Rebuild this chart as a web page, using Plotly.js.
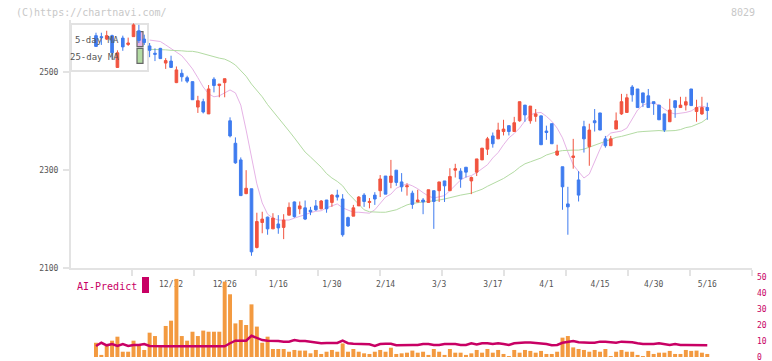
<!DOCTYPE html>
<html><head><meta charset="utf-8">
<script src="https://cdn.plot.ly/plotly-3.0.1.min.js"></script>
<style>html,body{margin:0;padding:0;background:#fff;}#chart{width:772px;height:361px;}</style>
</head><body><div id="chart"></div>
<script>
// ---- data ----
const dates = ["11/22","11/25","11/26","11/27","11/28","11/29","12/2","12/3","12/4","12/5","12/6","12/9","12/10","12/11","12/12","12/13","12/16","12/17","12/18","12/19","12/20","12/23","12/24","12/25","12/26","12/27","12/30","1/6","1/7","1/8","1/9","1/10","1/14","1/15","1/16","1/17","1/20","1/21","1/22","1/23","1/24","1/27","1/28","1/29","1/30","1/31","2/3","2/4","2/5","2/6","2/7","2/10","2/12","2/13","2/14","2/17","2/18","2/19","2/20","2/21","2/25","2/26","2/27","2/28","3/3","3/4","3/5","3/6","3/7","3/10","3/11","3/12","3/13","3/14","3/17","3/18","3/19","3/21","3/24","3/25","3/26","3/27","3/28","3/31","4/1","4/2","4/3","4/4","4/7","4/8","4/9","4/10","4/11","4/14","4/15","4/16","4/17","4/18","4/21","4/22","4/23","4/24","4/25","4/28","4/30","5/1","5/2","5/7","5/8","5/9","5/12","5/13","5/14","5/15","5/16"];

const openP = [2575,2573,2568,2575,2510,2570,2557,2573,2585,2568,
 2554,2539,2549,2519,2523,2479,2498,2489,2481,2429,
 2440,2415,2486,2473,2479,2401,2355,2321,2252,2262,
 2142,2193,2204,2180,2190,2183,2208,2235,2221,2223,
 2218,2227,2221,2239,2234,2249,2241,2203,2206,2227,
 2249,2234,2249,2258,2288,2275,2300,2276,2266,2253,
 2235,2239,2234,2258,2258,2278,2258,2300,2298,2306,
 2278,2296,2321,2343,2370,2364,2379,2391,2379,2401,
 2433,2401,2410,2411,2380,2395,2331,2307,2231,2326,
 2280,2389,2348,2401,2417,2364,2350,2384,2415,2418,
 2470,2466,2458,2452,2440,2433,2415,2399,2442,2428,
 2433,2466,2420,2415,2428];

const highP = [2581,2581,2585,2577,2545,2575,2571,2600,2597,2577,
 2560,2549,2550,2529,2534,2512,2506,2493,2481,2452,
 2446,2474,2490,2476,2487,2408,2367,2326,2300,2262,
 2213,2215,2205,2212,2208,2210,2234,2236,2236,2238,
 2225,2239,2239,2239,2251,2260,2251,2205,2229,2247,
 2253,2243,2255,2290,2288,2321,2300,2294,2273,2258,
 2260,2243,2260,2258,2276,2278,2304,2313,2304,2306,
 2287,2323,2345,2368,2377,2397,2403,2391,2409,2440,
 2433,2431,2425,2411,2391,2395,2352,2307,2266,2364,
 2298,2401,2395,2425,2417,2370,2370,2418,2456,2456,
 2474,2466,2458,2466,2440,2433,2415,2446,2442,2450,
 2450,2466,2444,2450,2438];

const lowP = [2553,2556,2566,2526,2510,2544,2554,2573,2560,2556,
 2531,2523,2528,2507,2509,2478,2481,2478,2444,2417,
 2416,2415,2459,2449,2449,2367,2313,2248,2251,2125,
 2140,2171,2168,2180,2170,2159,2208,2203,2210,2198,
 2208,2217,2220,2213,2225,2238,2164,2184,2206,2227,
 2225,2222,2229,2245,2251,2263,2268,2256,2248,2221,
 2235,2210,2234,2180,2235,2235,2258,2285,2264,2285,
 2251,2288,2321,2331,2346,2364,2371,2371,2379,2399,
 2399,2395,2399,2352,2362,2354,2329,2219,2168,2303,
 2236,2336,2309,2379,2382,2346,2350,2384,2413,2418,
 2440,2428,2429,2428,2413,2403,2378,2399,2407,2428,
 2422,2432,2399,2413,2403];

const closeP = [2553,2571,2575,2540,2540,2552,2560,2597,2565,2561,
 2545,2537,2528,2524,2510,2505,2491,2482,2444,2442,
 2419,2466,2473,2476,2487,2370,2315,2248,2263,2133,
 2195,2200,2180,2202,2182,2198,2224,2205,2227,2200,
 2215,2219,2237,2221,2249,2245,2168,2186,2223,2245,
 2236,2236,2241,2282,2251,2288,2275,2266,2268,2230,
 2239,2235,2260,2236,2276,2268,2287,2303,2282,2296,
 2285,2323,2345,2364,2354,2382,2384,2379,2397,2440,
 2413,2431,2415,2352,2377,2354,2339,2266,2225,2329,
 2249,2364,2382,2397,2382,2350,2364,2401,2440,2448,
 2454,2428,2438,2428,2436,2403,2382,2423,2428,2433,
 2440,2432,2428,2428,2422];

const ma5 = [null,null,null,null,null,null,null,null,null,null,
 2566,2564,2563,2556,2549,2542,2534,2521,2507,2489,
 2470,2456,2450,2452,2458,2464,2458,2433,2382,2325,
 2272,2233,2210,2202,2198,2198,2198,2202,2205,2209,
 2213,2216,2217,2223,2227,2231,2223,2218,2214,2214,
 2213,2212,2219,2233,2245,2251,2263,2268,2272,2268,
 2262,2254,2247,2243,2245,2248,2258,2268,2280,2286,
 2289,2295,2303,2311,2325,2336,2352,2366,2375,2386,
 2401,2413,2417,2418,2410,2400,2386,2366,2337,2311,
 2297,2284,2292,2319,2343,2366,2376,2378,2380,2386,
 2405,2423,2433,2437,2437,2433,2425,2418,2415,2416,
 2418,2421,2428,2431,2428];

const ma25 = [null,null,null,null,null,null,null,null,null,null,
 2547,2547,2547,2546,2545,2545,2544,2543,2543,2541,
 2538,2534,2531,2529,2527,2522,2515,2504,2492,2476,
 2463,2450,2434,2421,2407,2394,2380,2366,2352,2337,
 2327,2317,2306,2293,2284,2277,2268,2253,2241,2229,
 2219,2215,2214,2214,2214,2216,2219,2224,2229,2232,
 2234,2235,2236,2237,2239,2241,2244,2247,2249,2251,
 2253,2257,2261,2267,2272,2277,2283,2290,2297,2306,
 2313,2317,2321,2325,2331,2335,2338,2340,2341,2341,
 2341,2343,2347,2351,2355,2359,2363,2367,2369,2372,
 2375,2378,2379,2380,2381,2381,2380,2380,2381,2383,
 2387,2389,2393,2398,2406];

const volume = [8.9,1.3,6.9,10.2,12.7,3.3,3.3,10.2,8.1,4.4,
 15.2,13.1,6.9,19.4,22.7,48.8,13.1,10.2,15.8,13.1,
 16.5,15.8,15.8,15.8,47.1,39.2,21.0,23.1,20.0,32.9,
 19.0,8.9,12.7,5.0,5.0,5.0,3.3,4.4,4.0,4.0,
 2.3,4.4,1.9,3.3,4.4,3.3,8.5,3.3,5.0,3.3,
 2.3,1.9,3.3,4.4,3.3,5.8,1.9,2.3,2.7,4.0,
 2.7,3.3,1.3,5.0,3.3,1.3,5.0,2.7,2.7,1.3,
 2.3,4.4,2.7,5.0,2.7,4.4,1.9,0.6,4.4,2.7,
 4.4,3.8,2.7,3.8,1.9,1.9,3.3,12.1,13.1,6.0,
 5.0,4.4,3.3,4.4,3.3,5.0,0.6,3.3,4.4,3.3,
 3.3,1.3,0.6,3.8,1.9,2.7,2.7,3.8,1.9,1.9,
 4.4,3.8,4.0,2.7,1.9];

const aiPredict = [6.9,8.9,7.3,8.1,6.9,8.1,6.9,7.5,7.5,8.1,
 6.9,6.7,6.7,6.7,6.7,6.7,6.7,6.7,6.7,6.7,
 6.7,6.7,6.7,6.7,6.7,8.6,10.2,10.2,10.2,13.3,
 11.7,10.6,10.2,10.2,10.0,9.6,9.6,10.6,10.0,10.0,
 9.4,8.75,8.6,8.75,8.75,8.75,10.2,8.6,8.3,8.3,
 8.3,7.9,6.9,8.1,8.3,8.3,7.3,7.5,7.5,7.5,
 7.5,8.1,8.1,7.5,7.5,8.1,8.1,8.1,7.5,7.5,
 8.6,7.9,8.6,8.6,8.1,8.6,8.1,7.5,8.6,9.0,
 9.0,9.0,8.6,8.6,8.1,7.3,7.5,8.9,9.6,10.0,
 9.2,8.9,8.9,8.9,9.6,9.6,9.2,8.9,9.6,9.6,
 9.2,8.6,8.1,8.1,8.1,8.6,8.1,7.5,8.1,7.5,
 7.5,7.5,7.3,7.3,7.3];

const dateTicks = ["12/12","12/26","1/16","1/30","2/14","3/3","3/17","4/1","4/15","4/30","5/16"];
const priceTicks = [2100,2300,2500];
const volTicks = [0,10,20,30,40,50];
const legendNames = ["5-day MA","25-day MA"];

// ---- styling / geometry ----
const W=772, H=361, M={l:71,r:20,t:20,b:4};
const PW=W-M.l-M.r, PH=H-M.t-M.b;
const px = x => (x-M.l)/PW;
const py = y => (H-M.b-y)/PH;
const MONO = 'DejaVu Sans Mono, Liberation Mono, monospace';
const AXC = '#e3e3e3';
const RED = '#F1533F', BLUE = '#3E7BEF';
const PINK = '#E6B3E6', GREEN = '#B3DBA3';
const MAG = '#C80064', ORANGE = '#F39A40';
const catRange = [-4.66, 122.34];

const traces = [
  {type:'scatter', mode:'lines', x:dates, y:ma5, xaxis:'x', yaxis:'y',
   line:{color:PINK, width:1}, hoverinfo:'skip', showlegend:false},
  {type:'scatter', mode:'lines', x:dates, y:ma25, xaxis:'x', yaxis:'y',
   line:{color:GREEN, width:1}, hoverinfo:'skip', showlegend:false},
  {type:'candlestick', x:dates, open:openP, high:highP, low:lowP, close:closeP,
   xaxis:'x4', yaxis:'y', whiskerwidth:0,
   increasing:{line:{color:RED, width:1}, fillcolor:RED},
   decreasing:{line:{color:BLUE, width:1}, fillcolor:BLUE},
   showlegend:false, hoverinfo:'skip'},
  {type:'scatter', x:[], y:[], xaxis:'x3', yaxis:'y', showlegend:false, hoverinfo:'skip'},
  {type:'bar', x:dates, y:volume, xaxis:'x2', yaxis:'y2',
   marker:{color:ORANGE, line:{width:0}}, showlegend:false, hoverinfo:'skip'},
  {type:'scatter', mode:'lines', x:dates, y:aiPredict, xaxis:'x2', yaxis:'y2',
   line:{color:MAG, width:2.5}, showlegend:false, hoverinfo:'skip'}
];

const layout = {
  width:W, height:H, margin:M, autosize:false,
  paper_bgcolor:'#ffffff', plot_bgcolor:'rgba(0,0,0,0)',
  showlegend:false, boxgap:0.3, bargap:0.26,
  font:{family:MONO, size:8, color:'#555'},
  xaxis:{type:'category', range:catRange, domain:[0,1], anchor:'y', visible:false,
         rangeslider:{visible:false}, fixedrange:true},
  xaxis4:{type:'category', range:catRange, overlaying:'x', anchor:'y', visible:false,
         rangeslider:{visible:false}, fixedrange:true},
  xaxis3:{overlaying:'x', anchor:'y', range:[(M.l-70)/62, (M.l+PW-70)/62], tick0:0, dtick:1,
          ticks:'outside', ticklen:6, tickwidth:2, tickcolor:AXC, showline:true, linecolor:AXC,
          linewidth:2, showticklabels:false, showgrid:false, zeroline:false, fixedrange:true},
  yaxis:{domain:[py(268),1], range:[2100,2607], anchor:'x', tickvals:priceTicks,
         ticktext:priceTicks.map(String),
         ticks:'outside', ticklen:6, tickwidth:2, tickcolor:AXC, showline:true, linecolor:AXC,
         linewidth:2, showgrid:false, zeroline:false, ticklabelstandoff:3,
         tickfont:{family:MONO, size:8, color:'#555'}, fixedrange:true},
  xaxis2:{type:'category', range:catRange, domain:[0,1], anchor:'free', position:py(277),
          side:'bottom', ticks:'', showline:false, showgrid:false, zeroline:false,
          tickvals:dateTicks, ticktext:dateTicks, layer:'below traces', ticklabelstandoff:1,
          tickfont:{family:MONO, size:8, color:'#555'}, fixedrange:true},
  yaxis2:{domain:[0,py(277)], range:[0,50], anchor:'x2', side:'right', tickvals:volTicks,
          ticktext:volTicks.map(String), ticklabeloverflow:'allow',
          showgrid:false, zeroline:false, showline:false, ticks:'', ticklabelstandoff:4,
          tickfont:{family:MONO, size:8, color:MAG}, fixedrange:true},
  shapes:[
    {type:'rect', xref:'paper', yref:'paper', layer:'below',
     x0:px(71), x1:px(148), y0:py(71), y1:py(24), line:{color:'#e2e2e2', width:2}, fillcolor:'#ffffff'},
    {type:'rect', xref:'paper', yref:'paper', layer:'below',
     x0:px(137), x1:px(143), y0:py(46.7), y1:py(31.7), line:{color:'#666', width:1.2}, fillcolor:PINK},
    {type:'rect', xref:'paper', yref:'paper', layer:'below',
     x0:px(137), x1:px(143), y0:py(63.3), y1:py(48.3), line:{color:'#666', width:1.2}, fillcolor:GREEN},
    {type:'rect', xref:'paper', yref:'paper', layer:'above',
     x0:px(142), x1:px(149), y0:py(293), y1:py(277), line:{width:0}, fillcolor:MAG}
  ],
  annotations:[
    {text:'(C)https://chartnavi.com/', xref:'paper', yref:'paper', x:px(14), y:py(12),
     xanchor:'left', yanchor:'middle', showarrow:false, font:{family:MONO, size:10, color:'#c8c8c8'}},
    {text:'8029', xref:'paper', yref:'paper', x:px(757), y:py(12),
     xanchor:'right', yanchor:'middle', showarrow:false, font:{family:MONO, size:10, color:'#c8c8c8'}},
    {text:legendNames[0], xref:'paper', yref:'paper', x:px(121), y:py(40),
     xanchor:'right', yanchor:'middle', showarrow:false, font:{family:MONO, size:9, color:'#555'}},
    {text:legendNames[1], xref:'paper', yref:'paper', x:px(121), y:py(57),
     xanchor:'right', yanchor:'middle', showarrow:false, font:{family:MONO, size:9, color:'#555'}},
    {text:'AI-Predict', xref:'paper', yref:'paper', x:px(75), y:py(286),
     xanchor:'left', yanchor:'middle', showarrow:false, font:{family:MONO, size:10, color:MAG}}
  ]
};

Plotly.newPlot('chart', traces, layout, {staticPlot:true, displayModeBar:false});
</script></body></html>
